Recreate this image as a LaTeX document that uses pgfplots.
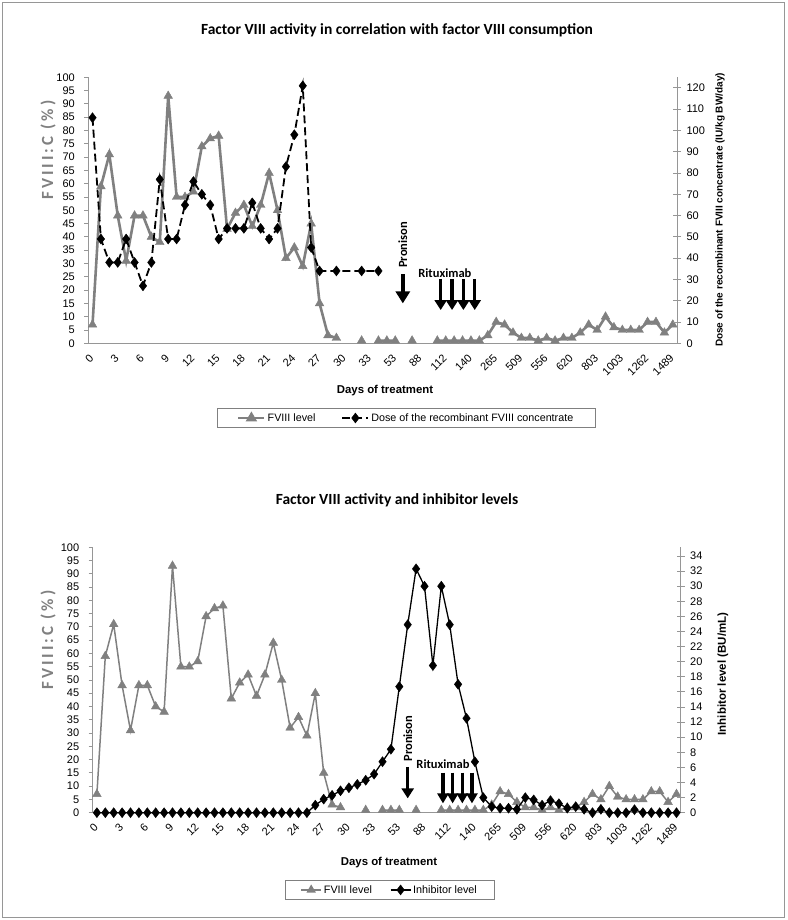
\documentclass[border=0pt]{standalone}
\usepackage{graphicx}
\usepackage{pgfplots}
\pgfplotsset{compat=1.18}
\usepackage{pgfplotstable}
\usepackage{fontspec}
\setmainfont{Liberation Sans}
\newfontfamily\calibri{Carlito}
\usetikzlibrary{arrows.meta}
\definecolor{fgray}{RGB}{128,128,128}
\definecolor{axgray}{RGB}{150,150,150}
\newcommand\fs[1]{\fontsize{#1}{#1}\selectfont}

\pgfplotstableread{
x y
0 7
1 59
2 71
3 48
4 31
5 48
6 48
7 40
8 38
9 93
10 55
11 55
12 57
13 74
14 77
15 78
16 43
17 49
18 52
19 44
20 52
21 64
22 50
23 32
24 36
25 29
26 45
27 15
28 3
29 2
30 nan
31 nan
32 1
33 nan
34 1
35 1
36 1
37 nan
38 1
39 nan
40 nan
41 1
42 1
43 1
44 1
45 1
46 1
47 3
48 8
49 7
50 4
51 2
52 2
53 1
54 2
55 1
56 2
57 2
58 4
59 7
60 5
61 10
62 6
63 5
64 5
65 5
66 8
67 8
68 4
69 7
}\fviii

\pgfplotstableread{
x y
0 106
1 49
2 38
3 38
4 49
5 38
6 27
7 38
8 77
9 49
10 49
11 65
12 76
13 70
14 65
15 49
16 54
17 54
18 54
19 66
20 54
21 49
22 54
23 83
24 98
25 121
26 45
27 34
29 34
32 34
34 34
}\dose

\pgfplotstableread{
x y
0 0
1 0
2 0
3 0
4 0
5 0
6 0
7 0
8 0
9 0
10 0
11 0
12 0
13 0
14 0
15 0
16 0
17 0
18 0
19 0
20 0
21 0
22 0
23 0
24 0
25 0
26 1.0
27 1.8
28 2.3
29 2.9
30 3.3
31 3.75
32 4.3
33 5.1
34 6.75
35 8.4
36 16.7
37 24.9
38 32.3
39 30.0
40 19.5
41 30.0
42 24.9
43 17.0
44 12.5
45 6.75
46 2.0
47 0.8
48 0.6
49 0.6
50 0.45
51 2.0
52 1.7
53 1.0
54 1.6
55 1.2
56 0.6
57 0.8
58 0.45
59 0
60 0.45
61 0
62 0
63 0
64 0.4
65 0
66 0
67 0
68 0
69 0
}\inhib

\pgfplotsset{
 base/.style={scale only axis, anchor=south west, xmin=-0.5, xmax=69.5, ymin=0,
   /pgf/number format/assume math mode=true,
   tick label style={font=\fs{11}, black},
   axis line style={axgray, line width=0.9pt, -},
   x axis line style={-}, y axis line style={-},
   every tick/.style={axgray, line width=0.9pt},
   unbounded coords=jump, clip=false},
 xaxis/.style={base, ymax=100, axis x line*=bottom, axis y line=none, ytick=\empty,
   xtick=\empty, minor xtick={-0.5,0.5,...,69.5},
   minor tick length=7pt, tick align=center,
   every minor tick/.style={axgray, line width=0.9pt}},
 laxis/.style={base, ymax=100, axis y line*=left, axis x line=none, xtick=\empty,
   ytick={0,5,...,100}, tick align=outside, major tick length=4pt,
   yticklabel style={xshift=-6pt}},
 raxis/.style={base, axis y line*=right, axis x line=none, xtick=\empty,
   tick align=center, major tick length=8pt, yticklabel style={xshift=2pt}},
 legimg/.style={legend image code/.code={\draw[##1,mark repeat=2,mark phase=2] plot coordinates {(0pt,0pt) (#1/2,0pt) (#1,0pt)};}},
}
\newcommand\xl[2]{\node[anchor=north east, inner sep=0pt, font=\fs{11}] at ([xshift=2pt,yshift=-10pt]axis cs:#1,0) {\rotatebox{45}{#2}};}
\newcommand\xlabels{%
\xl{0}{0}\xl{3}{3}\xl{6}{6}\xl{9}{9}\xl{12}{12}\xl{15}{15}\xl{18}{18}\xl{21}{21}%
\xl{24}{24}\xl{27}{27}\xl{30}{30}\xl{33}{33}\xl{36}{53}\xl{39}{88}\xl{42}{112}%
\xl{45}{140}\xl{48}{265}\xl{51}{509}\xl{54}{556}\xl{57}{620}\xl{60}{803}%
\xl{63}{1003}\xl{66}{1262}\xl{69}{1489}}
\newcommand\fviiilabel{F\kern3pt V\kern3pt I\kern3pt I\kern3pt I\kern3pt :\kern3pt C\kern3pt\ (\kern3pt\%\kern3pt)}

\begin{document}
\begin{tikzpicture}[x=1pt,y=1pt]
\useasboundingbox (0,0) rectangle (787,920);
\draw[axgray, line width=0.8pt] (2.5,2.5) rectangle (784.5,917.5);

% ---------- top panel ----------
\node[font=\calibri\bfseries\fs{15.5}] at (397,890) {Factor VIII activity in correlation with factor VIII consumption};
\begin{axis}[xaxis, at={(88.3pt,576.7pt)}, width=588.7pt, height=266pt]
\xlabels
\end{axis}
\begin{axis}[laxis, at={(88.3pt,576.7pt)}, width=588.7pt, height=266pt]
\addplot[fgray, line width=2.6pt, mark=triangle*, mark size=5pt, mark options={fgray, line width=0.4pt}] table {\fviii};
\node[rotate=90, anchor=west, inner sep=0pt, font=\calibri\bfseries\fs{12.5}] at (axis cs:36.9,28.3) {Pronison};
\draw[line width=4pt, -{Triangle[width=14pt,length=12pt]}] (axis cs:36.9,26) -- (axis cs:36.9,15);
\node[font=\calibri\bfseries\fs{12.5}, inner sep=0pt] at (axis cs:41.9,26.3) {Rituximab};
\pgfplotsinvokeforeach{41.4,42.75,44.1,45.45}{
 \draw[line width=3.3pt, -{Triangle[width=12pt,length=10pt]}] (axis cs:#1,24.2) -- (axis cs:#1,12.5);
}
\end{axis}
\begin{axis}[raxis, at={(88.3pt,576.7pt)}, width=588.7pt, height=266pt, ymax=125, ytick={0,10,...,120},
  legend style={at={(0.54,-0.281)}, anchor=center, legend columns=2, draw=fgray, font=\fs{10.75},
    inner xsep=20pt, inner ysep=3pt, /tikz/every even column/.append style={column sep=24pt}}, legimg=26pt]
\addlegendimage{fgray, line width=2.6pt, mark=triangle*, mark size=4pt, mark options={fgray}}
\addlegendentry{FVIII level}
\addplot[black, line width=1.8pt, dash pattern=on 8pt off 4pt, mark=diamond*, mark size=5pt, mark options={solid, black, line width=0.4pt}] table {\dose};
\addlegendentry{Dose of the recombinant FVIII concentrate}
\end{axis}
\node[rotate=90, font=\calibri\bfseries\fs{17}, text=fgray] at (48,770) {\fviiilabel};
\node[rotate=90, font=\bfseries\fs{10}] at (720,710) {Dose of the recombinant FVIII concentrate (IU/kg BW/day)};
\node[font=\bfseries\fs{11.4}] at (385,529) {Days of treatment};

% ---------- bottom panel ----------
\node[font=\calibri\bfseries\fs{15.5}] at (397,420) {Factor VIII activity and inhibitor levels};
\begin{axis}[xaxis, at={(92.7pt,107.3pt)}, width=588pt, height=265.4pt]
\xlabels
\end{axis}
\begin{axis}[laxis, at={(92.7pt,107.3pt)}, width=588pt, height=265.4pt]
\addplot[fgray, line width=1.5pt, mark=triangle*, mark size=5pt, mark options={fgray, line width=0.4pt}] table {\fviii};
\node[rotate=90, anchor=west, inner sep=0pt, font=\calibri\bfseries\fs{12.5}] at (axis cs:37.0,19.2) {Pronison};
\draw[line width=3.5pt, -{Triangle[width=12pt,length=10pt]}] (axis cs:37.0,17.3) -- (axis cs:37.0,5.4);
\node[font=\calibri\bfseries\fs{12.5}, inner sep=0pt] at (axis cs:41.2,18.4) {Rituximab};
\pgfplotsinvokeforeach{41.2,42.35,43.5,44.65}{
 \draw[line width=3.3pt, -{Triangle[width=11pt,length=10pt]}] (axis cs:#1,15.1) -- (axis cs:#1,3.5);
}
\end{axis}
\begin{axis}[raxis, at={(92.7pt,107.3pt)}, width=588pt, height=265.4pt, ymax=35.15, ytick={0,2,...,34},
  legend style={at={(0.505,-0.291)}, anchor=center, legend columns=2, draw=fgray, font=\fs{10.8},
    inner xsep=15pt, inner ysep=3pt, /tikz/every even column/.append style={column sep=16pt}}, legimg=20pt]
\addlegendimage{fgray, line width=1.5pt, mark=triangle*, mark size=4pt, mark options={fgray}}
\addlegendentry{FVIII level}
\addplot[black, line width=1.3pt, mark=diamond*, mark size=5pt, mark options={black, line width=0.4pt}] table {\inhib};
\addlegendentry{Inhibitor level}
\end{axis}
\node[rotate=90, font=\calibri\bfseries\fs{17}, text=fgray] at (48,280) {\fviiilabel};
\node[rotate=90, font=\bfseries\fs{11.5}] at (723,246) {Inhibitor level (BU/mL)};
\node[font=\bfseries\fs{11.4}] at (389,57.3) {Days of treatment};
\end{tikzpicture}
\end{document}
